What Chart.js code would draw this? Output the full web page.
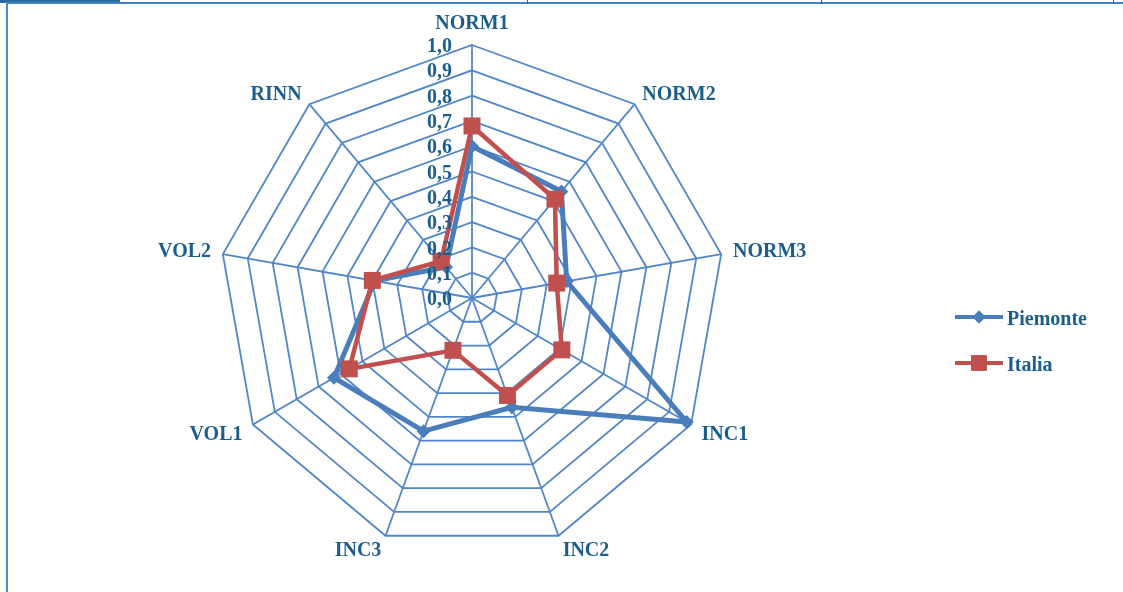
<!DOCTYPE html>
<html>
<head>
<meta charset="utf-8">
<script src="https://cdn.jsdelivr.net/npm/chart.js@4.4.1/dist/chart.umd.min.js"></script>
<style>
  html, body { margin: 0; padding: 0; background: #fff; }
  #wrap { position: relative; width: 1123px; height: 592px; overflow: hidden; background: #fff; }
  #c { position: absolute; left: 0; top: 0; }
  .ln { position: absolute; }
</style>
</head>
<body>
<div id="wrap">
  <canvas id="c" width="1123" height="592"></canvas>
  <div class="ln" style="left:0;top:0;width:120px;height:3px;background:#2b6aa0;"></div>
  <div class="ln" style="left:6px;top:2px;width:1117px;height:2px;background:#3f84c0;"></div>
  <div class="ln" style="left:6px;top:2px;width:2px;height:590px;background:#4a8cc8;"></div>
  <div class="ln" style="left:527px;top:0;width:1px;height:4px;background:#555;"></div>
  <div class="ln" style="left:821px;top:0;width:1px;height:4px;background:#555;"></div>
  <div class="ln" style="left:1113px;top:0;width:1px;height:4px;background:#555;"></div>
</div>
<script>
const categories = ['NORM1', 'NORM2', 'NORM3', 'INC1', 'INC2', 'INC3', 'VOL1', 'VOL2', 'RINN'];
const piemonte = [0.60, 0.55, 0.38, 0.98, 0.46, 0.56, 0.63, 0.39, 0.16];
const italia   = [0.68, 0.51, 0.34, 0.41, 0.41, 0.22, 0.56, 0.40, 0.19];
const seriesNames = ['Piemonte', 'Italia'];
const scaleMin = 0, scaleMax = 1.0, scaleStep = 0.1;

const TEXT_COLOR = '#1a5e8e';
const FONT = 'bold 20px "Liberation Serif", "Times New Roman", serif';
const BLUE = '#4a7ebb';
const RED = '#c0504d';
const GRID = '#5186c8';

const labelPlugin = {
  id: 'customLabels',
  afterDraw(chart) {
    const ctx = chart.ctx;
    const s = chart.scales.r;
    ctx.save();
    ctx.font = FONT;
    ctx.fillStyle = TEXT_COLOR;
    const n = chart.data.labels.length;
    chart.data.labels.forEach((lab, i) => {
      const p = s.getPointPosition(i, s.drawingArea + 12);
      const deg = Math.round(360 * i / n);
      if (deg === 0) {
        ctx.textAlign = 'center';
        ctx.textBaseline = 'bottom';
        ctx.fillText(lab, p.x, p.y + 1);
      } else {
        ctx.textAlign = deg < 180 ? 'left' : 'right';
        ctx.textBaseline = 'middle';
        let dy = 0;
        if (deg > 90 && deg < 270) dy = 4;
        ctx.fillText(lab, p.x, p.y + dy);
      }
    });
    ctx.textAlign = 'right';
    ctx.textBaseline = 'middle';
    s.ticks.forEach(t => {
      const d = s.getDistanceFromCenterForValue(t.value);
      ctx.fillText(t.value.toFixed(1).replace('.', ','), s.xCenter - 20, s.yCenter - d + 2);
    });
    const items = [
      { name: chart.data.datasets[0].label, color: BLUE, style: 'rectRot', r: 6.5, y: 317 },
      { name: chart.data.datasets[1].label, color: RED, style: 'rect', r: 11, y: 363 }
    ];
    items.forEach(it => {
      ctx.strokeStyle = it.color;
      ctx.lineWidth = 4;
      ctx.beginPath();
      ctx.moveTo(955, it.y);
      ctx.lineTo(1003, it.y);
      ctx.stroke();
      ctx.fillStyle = it.color;
      Chart.helpers.drawPoint(ctx, { pointStyle: it.style, radius: it.r, rotation: 0, borderWidth: 0 }, 979, it.y);
      ctx.fill();
      ctx.fillStyle = TEXT_COLOR;
      ctx.textAlign = 'left';
      ctx.textBaseline = 'middle';
      ctx.fillText(it.name, 1007, it.y + 3);
    });
    ctx.restore();
  }
};

new Chart(document.getElementById('c'), {
  type: 'radar',
  data: {
    labels: categories,
    datasets: [
      {
        label: seriesNames[0],
        data: piemonte,
        borderColor: BLUE,
        backgroundColor: BLUE,
        borderWidth: 5,
        pointStyle: 'rectRot',
        pointRadius: 7,
        pointBorderWidth: 0,
        pointBackgroundColor: BLUE,
        fill: false,
        tension: 0,
        order: 1
      },
      {
        label: seriesNames[1],
        data: italia,
        borderColor: RED,
        backgroundColor: RED,
        borderWidth: 4.5,
        pointStyle: 'rect',
        pointRadius: 12,
        pointBorderWidth: 0,
        pointBackgroundColor: RED,
        fill: false,
        tension: 0,
        order: 0
      }
    ]
  },
  options: {
    responsive: false,
    animation: false,
    devicePixelRatio: 1,
    layout: { padding: { left: 219, right: 398, top: 45, bottom: 41 } },
    plugins: { legend: { display: false }, tooltip: { enabled: false } },
    scales: {
      r: {
        min: scaleMin,
        max: scaleMax,
        ticks: { stepSize: scaleStep, display: false },
        pointLabels: { display: false },
        grid: { circular: false, color: GRID, lineWidth: 1.8 },
        angleLines: { display: true, color: GRID, lineWidth: 1.8 }
      }
    }
  },
  plugins: [labelPlugin]
});
</script>
</body>
</html>
